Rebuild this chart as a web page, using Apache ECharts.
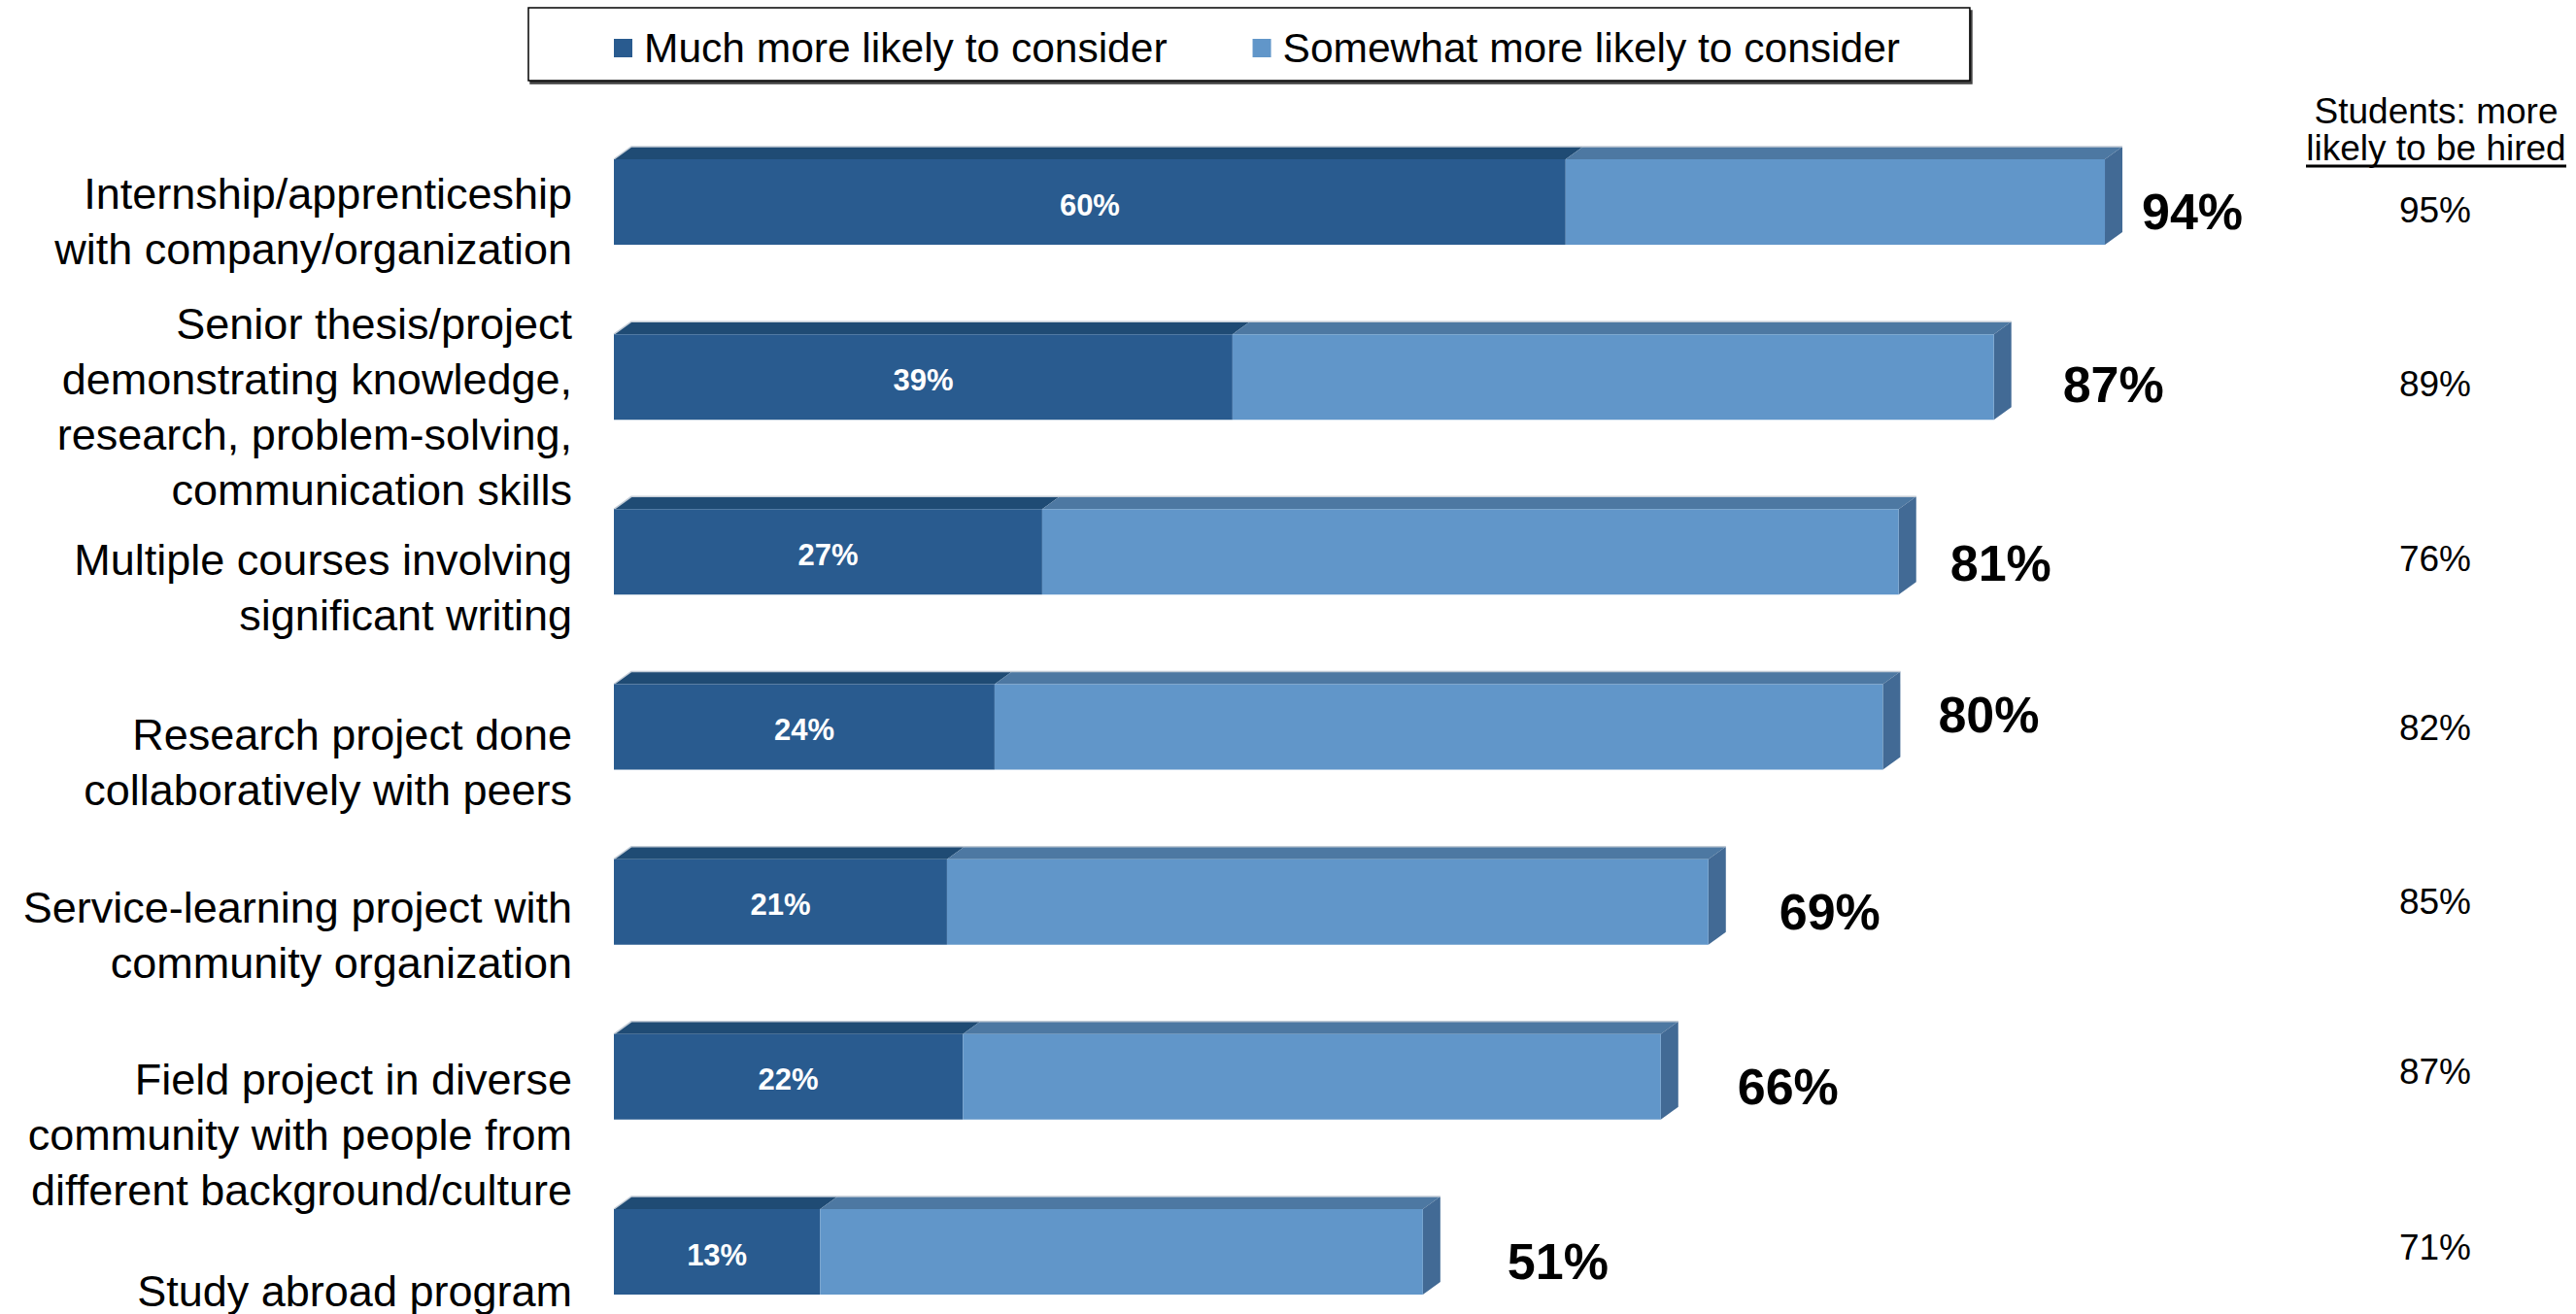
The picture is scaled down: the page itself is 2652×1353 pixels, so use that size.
<!DOCTYPE html>
<html>
<head>
<meta charset="utf-8">
<script src="https://cdn.jsdelivr.net/npm/echarts@6/dist/echarts.min.js"></script>
<style>
html, body { margin: 0; padding: 0; background: #ffffff; }
#chart { width: 2652px; height: 1353px; }
</style>
</head>
<body>
<div id="chart"></div>
<script>
// ---------------- DATA ----------------
const categories = [
  'Internship/apprenticeship\nwith company/organization',
  'Senior thesis/project\ndemonstrating knowledge,\nresearch, problem-solving,\ncommunication skills',
  'Multiple courses involving\nsignificant writing',
  'Research project done\ncollaboratively with peers',
  'Service-learning project with\ncommunity organization',
  'Field project in diverse\ncommunity with people from\ndifferent background/culture',
  'Study abroad program'
];
const muchMore = [60, 39, 27, 24, 21, 22, 13];
const somewhatMore = [34, 48, 54, 56, 48, 44, 38];
const totals = [94, 87, 81, 80, 69, 66, 51];
const studentsHired = [95, 89, 76, 82, 85, 87, 71];
const seriesNames = ['Much more likely to consider', 'Somewhat more likely to consider'];
const studentsHeader = ['Students: more', 'likely to be hired'];

// ---------------- LAYOUT / STYLE ----------------
const FONT = "'Liberation Sans', Arial, sans-serif";
const BAR_H = 88;      // front face height (px)
const DEPTH_X = 18;    // 3D depth offset
const DEPTH_Y = 13;
const COLORS = {
  darkFront: '#295b8f', darkTop: '#1f4b74',
  lightFront: '#6196c9', lightTop: '#4d78a2', side: '#426a95', edge: '#c3ccd6'
};
// fine placement nudges of the free-floating labels (px)
const catLabelDy = [20, 31, 37, 36, 34, 60, 40];
const totalLabelDx = [38, 71, 53, 57, 73, 79, 87];
const totalLabelDy = [10, 8, 12, -13, 10, 10, 10];
const studentColDx = 242;   // column centre, measured from the 100% position
const studentDy = [8, 7, 7, 1, 0, -5, -5];

const chart = echarts.init(document.getElementById('chart'), null, { renderer: 'svg' });

function renderFaces(params, api) {
  const i = api.value(0);
  const m = api.value(1);
  const s = api.value(2);
  const p0 = api.coord([0, i]);
  const pm = api.coord([m, i]);
  const pt = api.coord([m + s, i]);
  const pFull = api.coord([100, i]);
  const top = p0[1] - BAR_H / 2;
  const bot = p0[1] + BAR_H / 2;
  const children = [
    { type: 'polygon', shape: { points: [[p0[0], top], [p0[0] + DEPTH_X, top - DEPTH_Y], [pm[0] + DEPTH_X, top - DEPTH_Y], [pm[0], top]] },
      style: { fill: COLORS.darkTop } },
    { type: 'polygon', shape: { points: [[pm[0], top], [pm[0] + DEPTH_X, top - DEPTH_Y], [pt[0] + DEPTH_X, top - DEPTH_Y], [pt[0], top]] },
      style: { fill: COLORS.lightTop } },
    { type: 'polygon', shape: { points: [[pt[0], top], [pt[0] + DEPTH_X, top - DEPTH_Y], [pt[0] + DEPTH_X, bot - DEPTH_Y], [pt[0], bot]] },
      style: { fill: COLORS.side } },
    { type: 'polyline', shape: { points: [[p0[0], top], [p0[0] + DEPTH_X, top - DEPTH_Y], [pt[0] + DEPTH_X, top - DEPTH_Y]] },
      style: { stroke: COLORS.edge, lineWidth: 1.5, fill: null } },
    { type: 'text', style: {
        text: totals[i] + '%', x: pt[0] + totalLabelDx[i], y: p0[1] + totalLabelDy[i],
        align: 'left', verticalAlign: 'middle', fill: '#000',
        fontSize: 52, fontWeight: 'bold', fontFamily: FONT } },
    { type: 'text', style: {
        text: categories[i], x: p0[0] - 43, y: p0[1] + catLabelDy[i],
        align: 'right', verticalAlign: 'middle', fill: '#000',
        fontSize: 45, lineHeight: 57, fontFamily: FONT } },
    { type: 'text', style: {
        text: studentsHired[i] + '%', x: pFull[0] + studentColDx, y: p0[1] + studentDy[i],
        align: 'center', verticalAlign: 'middle', fill: '#000',
        fontSize: 37, fontFamily: FONT } }
  ];
  return { type: 'group', children: children };
}

const option = {
  animation: false,
  backgroundColor: '#ffffff',
  legend: {
    data: seriesNames,
    left: 544, top: 8,
    orient: 'horizontal',
    icon: 'rect',
    itemWidth: 19, itemHeight: 19,
    itemGap: 88,
    padding: [20, 72, 12, 88],
    backgroundColor: '#ffffff',
    borderColor: '#000000', borderWidth: 1.5, borderRadius: 0,
    shadowColor: 'rgba(0,0,0,0.75)', shadowBlur: 1, shadowOffsetX: 2, shadowOffsetY: 3,
    textStyle: { fontSize: 42.5, lineHeight: 42, color: '#000', fontFamily: FONT, padding: [0, 0, 0, 7] },
    selectedMode: false
  },
  grid: { left: 632, top: 208, width: 1633, height: 1081, containLabel: false },
  xAxis: { type: 'value', min: 0, max: 100, show: false },
  yAxis: { type: 'category', data: categories, inverse: true, boundaryGap: false, show: false },
  series: [
    { name: seriesNames[0], type: 'bar', stack: 'total', data: muchMore, barWidth: BAR_H,
      itemStyle: { color: COLORS.darkFront },
      label: { show: true, position: 'inside', offset: [0, 3], formatter: '{c}%', color: '#fff',
        fontSize: 31, fontWeight: 'bold', fontFamily: FONT } },
    { name: seriesNames[1], type: 'bar', stack: 'total', data: somewhatMore, barWidth: BAR_H,
      itemStyle: { color: COLORS.lightFront } },
    { name: 'faces', type: 'custom', renderItem: renderFaces, silent: true,
      encode: { x: 1, y: 0 },
      data: categories.map(function (c, i) { return [i, muchMore[i], somewhatMore[i]]; }) }
  ],
  graphic: [
    { type: 'group', left: 2374, top: 96, children: [
      { type: 'text', x: 134, y: 20, style: { text: studentsHeader[0], align: 'center', verticalAlign: 'middle',
          fontSize: 37, fontFamily: FONT, fill: '#000' } },
      { type: 'text', x: 134, y: 58, style: { text: studentsHeader[1], align: 'center', verticalAlign: 'middle',
          fontSize: 37, fontFamily: FONT, fill: '#000' } },
      { type: 'rect', shape: { x: 0, y: 75, width: 268, height: 3 }, style: { fill: '#000' } }
    ] }
  ]
};
chart.setOption(option);
</script>
</body>
</html>
